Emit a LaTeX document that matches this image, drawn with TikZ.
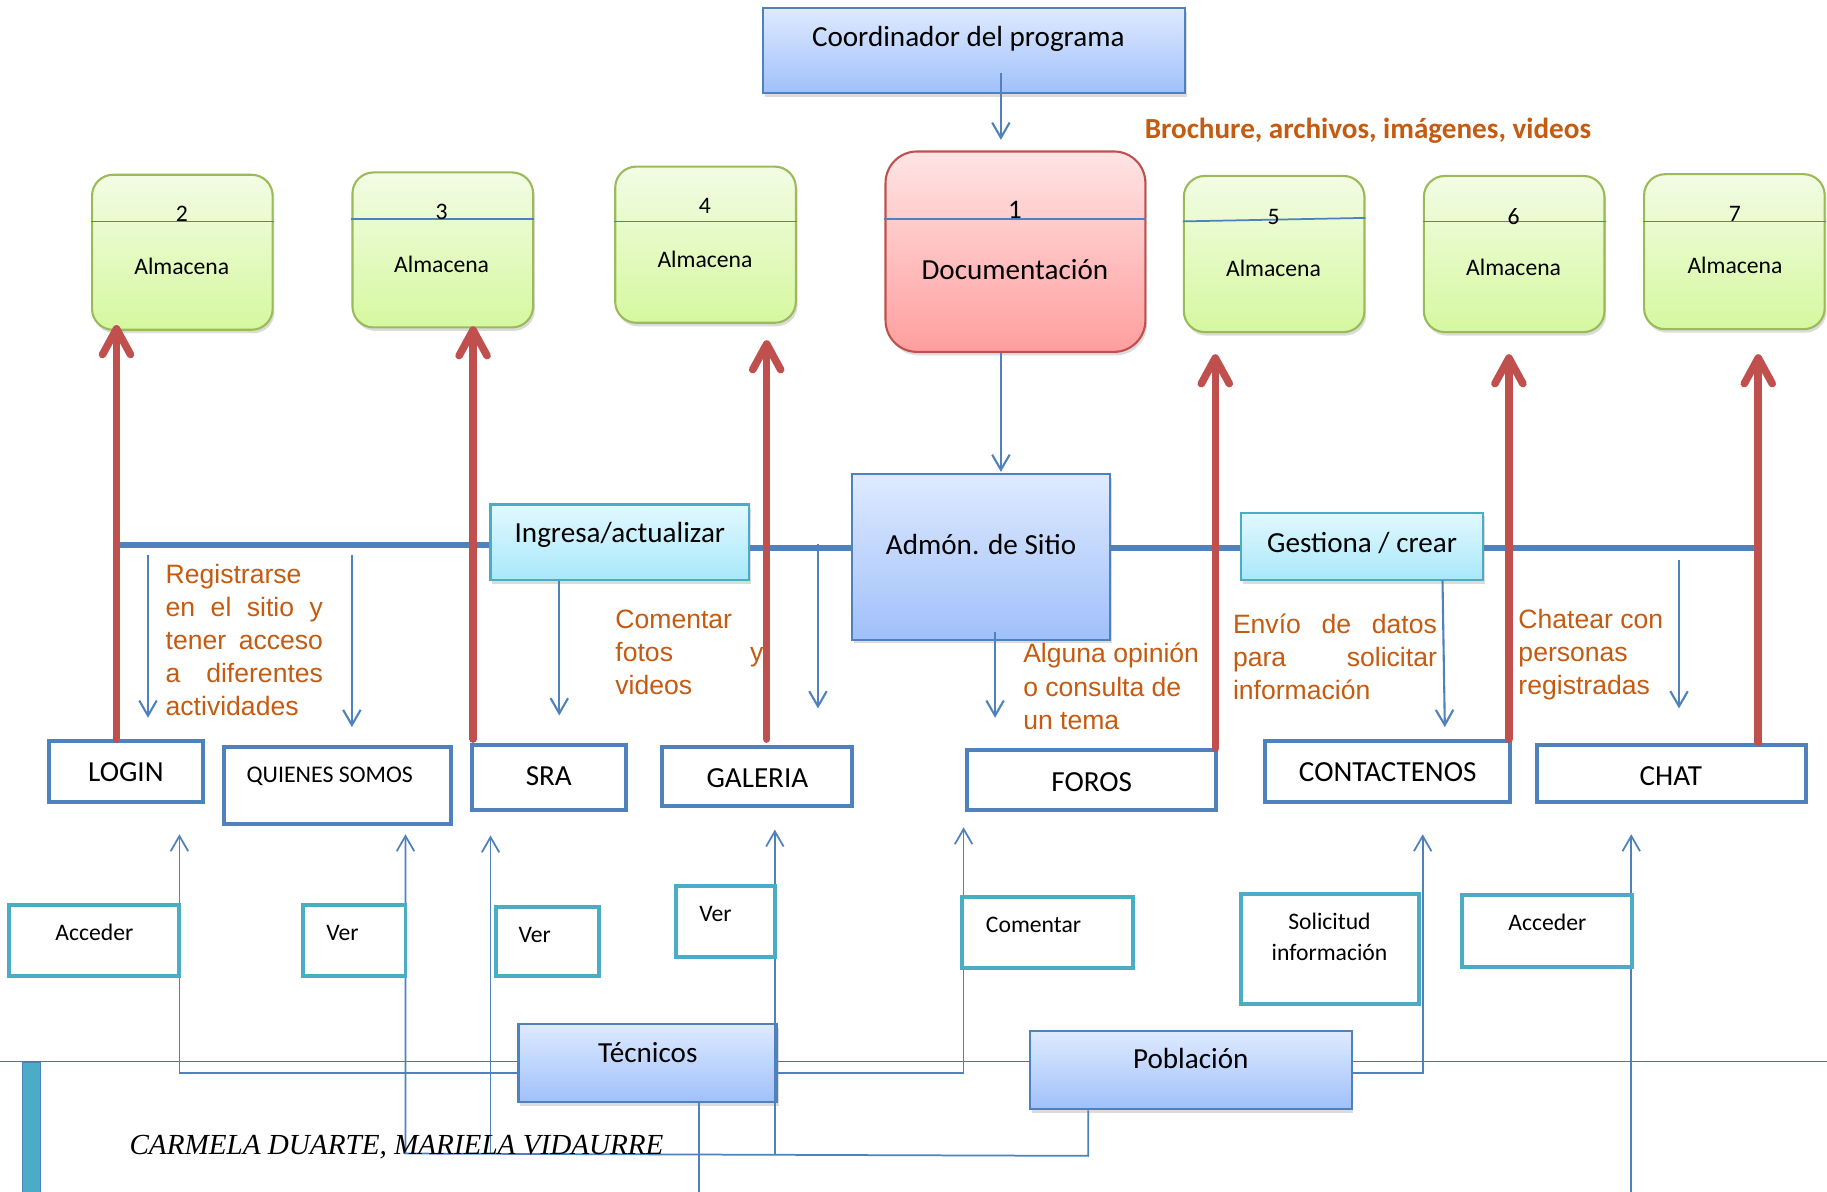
\documentclass[tikz,border=0pt]{standalone}
\usepackage{fontspec}
\setmainfont{Carlito}
\newfontfamily\arialf{Liberation Sans}
\newfontfamily\timesf{Liberation Serif}
\usetikzlibrary{arrows.meta,shadows}
\definecolor{cblue}{RGB}{79,129,189}
\definecolor{cred}{RGB}{192,80,77}
\definecolor{corange}{RGB}{197,90,17}
\definecolor{ccyan}{RGB}{75,172,198}
\definecolor{cgreen}{RGB}{155,187,89}
\definecolor{gtop}{RGB}{242,252,228}
\definecolor{gbot}{RGB}{214,248,160}
\definecolor{ptop}{RGB}{255,228,228}
\definecolor{pbot}{RGB}{255,158,158}
\definecolor{btop}{RGB}{222,234,255}
\definecolor{bbot}{RGB}{160,192,250}
\definecolor{ctop}{RGB}{226,248,255}
\definecolor{cbot}{RGB}{168,232,250}
\definecolor{cteal}{RGB}{49,133,155}
\newcommand\fsz[1]{\fontsize{#1}{#1}\selectfont}
\tikzset{
  shadowed/.style={drop shadow={shadow xshift=1.5pt,shadow yshift=-3pt,opacity=0.28}},
  store/.style={draw=cgreen,line width=1.8pt,rounded corners=18pt,top color=gtop,bottom color=gbot,minimum width=155pt,minimum height=133pt,inner sep=0pt,shadowed},
  docbox/.style={draw=cred,line width=1.8pt,rounded corners=27pt,top color=ptop,bottom color=pbot,minimum width=223pt,minimum height=172pt,inner sep=0pt,shadowed},
  entity/.style={draw=cblue,line width=1.8pt,top color=btop,bottom color=bbot,inner sep=0pt,shadowed},
  flowbox/.style={draw=ccyan,line width=1.8pt,top color=ctop,bottom color=cbot,inner sep=0pt,shadowed},
  proc/.style={draw=cblue,line width=3.4pt,fill=white,inner sep=0pt},
  act/.style={draw=ccyan,line width=3.4pt,fill=white,inner sep=0pt},
  divline/.style={draw=cblue,line width=1.5pt},
  barline/.style={draw=cblue,line width=5pt},
  thinarr/.style={draw=cblue,line width=1.8pt,-{Straight Barb[length=13pt,width=15pt]}},
  thinline/.style={draw=cblue,line width=1.5pt},
  lowarr/.style={draw=cblue,line width=1.5pt,-{Straight Barb[length=13pt,width=15pt]}},
  redarr/.style={draw=cred,line width=6.5pt,line cap=round,-{Straight Barb[length=22pt,width=24pt,round]}},
  txt/.style={inner sep=0pt,anchor=base,font=\fsz{25}},
  txts/.style={inner sep=0pt,anchor=base,font=\fsz{20.3}},
  otxt/.style={inner sep=0pt,anchor=base west,text=corange,font=\arialf\fsz{22.8}},
}
\begin{document}
\begin{tikzpicture}[x=1pt,y=-1pt]
\useasboundingbox (0,0) rectangle (1568,1023);
\fill[white] (0,0) rectangle (1568,1023);

% page decoration
\coordinate (tealL) at (0,911);
\coordinate (tealR) at (1568,911);
\draw[cteal,line width=1.3pt] (tealL) -- (tealR);
\node[fill=ccyan,draw=cblue,line width=1pt,minimum width=16pt,minimum height=112pt,inner sep=0pt,anchor=north west] (sidebar) at (18.5,911.5) {};

% lower connector points
\coordinate (L1) at (154,920.6);
\coordinate (L1t) at (154,716);
\coordinate (L2) at (827,920.6);
\coordinate (L2t) at (827,710);
\coordinate (L3) at (1221,920.6);
\coordinate (L3t) at (1221,716);
\coordinate (P1) at (934,992);
\coordinate (P2) at (348,990);
\coordinate (P2t) at (348,716);
\coordinate (B1) at (421,990);
\coordinate (B1t) at (421,717);
\coordinate (B2) at (665,990);
\coordinate (B2t) at (665,712);
\coordinate (T1) at (600,1023);
\coordinate (C1) at (1400,1023);
\coordinate (C1t) at (1400,716);

% boxes
\node[store] (s2) at (156.5,216.5) {};
\node[store] (s3) at (380,214.5) {};
\node[store,minimum height=134pt] (s4) at (605.5,210) {};
\node[store,minimum height=134pt] (s5) at (1093.5,218) {};
\node[store,minimum height=134pt] (s6) at (1299.5,218) {};
\node[store] (s7) at (1488.5,216) {};
\node[docbox] (doc) at (871.5,216) {};
\node[entity,minimum width=362pt,minimum height=73pt] (coord) at (836,43.5) {};
\node[entity,minimum width=222pt,minimum height=142pt] (adm) at (842,478) {};

\draw[divline] ([yshift=26.5pt]s2.west) -- ([yshift=26.5pt]s2.east);
\draw[divline] ([yshift=26.5pt]s3.west) -- ([yshift=26.5pt]s3.east);
\draw[divline] ([yshift=20pt]s4.west) -- ([yshift=20pt]s4.east);
\draw[divline] ([yshift=28pt]s5.west) -- ([yshift=31pt]s5.east);
\draw[divline] ([yshift=28pt]s6.west) -- ([yshift=28pt]s6.east);
\draw[divline] ([yshift=26pt]s7.west) -- ([yshift=26pt]s7.east);
\draw[divline] ([yshift=28pt]doc.west) -- ([yshift=28pt]doc.east);

% blue bar
\coordinate (barL) at (103,468);
\coordinate (barR) at (1505,470);
\node[flowbox,minimum width=222pt,minimum height=65pt] (ing) at (532,465.5) {};
\node[flowbox,minimum width=208pt,minimum height=58pt] (gest) at (1169,469) {};
\draw[barline] (barL) -- (ing.west |- barL);
\draw[barline] (ing.east |- barR) -- (adm.west |- barR);
\draw[barline] (adm.east |- barR) -- (gest.west |- barR);
\draw[barline] (gest.east |- barR) -- (barR);

% process boxes
\node[proc,minimum width=132pt,minimum height=52pt] (login) at (108,662) {};
\node[proc,minimum width=195pt,minimum height=66pt] (quien) at (289.5,674) {};
\node[proc,minimum width=132pt,minimum height=56pt] (sra) at (471,667) {};
\node[proc,minimum width=163pt,minimum height=51pt] (gal) at (649.5,666.5) {};
\node[proc,minimum width=214pt,minimum height=51pt] (foros) at (937,669.5) {};
\node[proc,minimum width=210pt,minimum height=52pt] (cont) at (1191,662) {};
\node[proc,minimum width=231pt,minimum height=49pt] (chat) at (1434.5,663.5) {};

% lower boxes
\node[entity,minimum width=222pt,minimum height=67pt] (tec) at (556,912.5) {};
\node[entity,minimum width=276pt,minimum height=67pt] (pob) at (1022,918.5) {};

% lower connectors
\draw[lowarr] (tec.west |- L1) -- (L1) -- (L1t);
\draw[lowarr] (tec.east |- L2) -- (L2) -- (L2t);
\draw[lowarr] (pob.east |- L3) -- (L3) -- (L3t);
\draw[lowarr] (pob.south -| P1) -- (P1) -- (P2) -- (P2t);
\draw[lowarr] (B1) -- (B1t);
\draw[lowarr] (B2) -- (B2t);
\draw[thinline] (tec.south -| T1) -- (T1);
\draw[lowarr] (C1) -- (C1t);

\node[act,minimum width=146pt,minimum height=61pt] (acc1) at (81,807.5) {};
\node[act,minimum width=88pt,minimum height=61pt] (ver1) at (304,807.5) {};
\node[act,minimum width=88pt,minimum height=60pt] (ver2) at (470,808) {};
\node[act,minimum width=85pt,minimum height=61pt] (ver3) at (622.5,790.5) {};
\node[act,minimum width=146pt,minimum height=61pt] (com) at (899,800.5) {};
\node[act,minimum width=153pt,minimum height=95pt] (sol) at (1141.5,814.5) {};
\node[act,minimum width=146pt,minimum height=62pt] (acc2) at (1328,799) {};

% top arrows
\coordinate (k1) at (859,63);
\coordinate (k2) at (859,120);
\coordinate (k3) at (859,405);
\draw[thinarr] (k1) -- (k2);
\draw[thinarr] (doc.south -| k3) -- (k3);
\coordinate (d1a) at (127,476); \coordinate (d1b) at (127,616);
\coordinate (d2a) at (302,476); \coordinate (d2b) at (302,624);
\coordinate (d3b) at (480,614);
\coordinate (d4a) at (702,467); \coordinate (d4b) at (702,608);
\coordinate (d5a) at (854,542); \coordinate (d5b) at (854,616);
\coordinate (d6a) at (1238,498); \coordinate (d6b) at (1240,624);
\coordinate (d7a) at (1441,481); \coordinate (d7b) at (1441,608);
\draw[thinarr] (d1a) -- (d1b);
\draw[thinarr] (d2a) -- (d2b);
\draw[thinarr] (ing.south -| d3b) -- (d3b);
\draw[thinarr] (d4a) -- (d4b);
\draw[thinarr] (d5a) -- (d5b);
\draw[thinarr] (d6a) -- (d6b);
\draw[thinarr] (d7a) -- (d7b);

% red arrows
\coordinate (r2t) at (100,279);
\coordinate (r3t) at (406,280);
\coordinate (r4t) at (658,292);
\coordinate (r5t) at (1043,304);
\coordinate (r6t) at (1295,304);
\coordinate (r7t) at (1509,304);
\draw[redarr] (login.north -| r2t) -- (r2t);
\draw[redarr] ([yshift=3pt]sra.north -| r3t) -- (r3t);
\draw[redarr] ([yshift=5pt]gal.north -| r4t) -- (r4t);
\draw[redarr] (foros.north -| r5t) -- (r5t);
\draw[redarr] (cont.north -| r6t) -- (r6t);
\draw[redarr] (chat.north -| r7t) -- (r7t);

% texts
\node[txt] (coordT) at (831,40) {Coordinador del programa};
\node[txt,font=\bfseries\fsz{25},text=corange] (broT) at (1174,119) {Brochure, archivos, imágenes, videos};
\node[txt,font=\fsz{23}] (docN) at (871,187.5) {1};
\node[txt] (docT) at (871,240) {Documentación};
\node[txts] (n2) at (156,190.5) {2};
\node[txts] (n3) at (379,188.5) {3};
\node[txts] (n4) at (605,183.5) {4};
\node[txts] (n5) at (1093,192.5) {5};
\node[txts] (n6) at (1299,192.5) {6};
\node[txts] (n7) at (1489,190.5) {7};
\node[txts] (a2) at (156,235.5) {Almacena};
\node[txts] (a3) at (379,233.5) {Almacena};
\node[txts] (a4) at (605,229.5) {Almacena};
\node[txts] (a5) at (1093,237.5) {Almacena};
\node[txts] (a6) at (1299,236.5) {Almacena};
\node[txts] (a7) at (1489,234.5) {Almacena};
\node[txt] (ingT) at (532,466) {Ingresa/actualizar};
\node[txt] (admT) at (842,476) {Admón. de Sitio};
\node[txt] (gestT) at (1169,474) {Gestiona / crear};
\node[txt] (loginT) at (108,671) {LOGIN};
\node[txts,font=\fsz{20.5}] (quienT) at (283,671.5) {QUIENES SOMOS};
\node[txt] (sraT) at (471,674) {SRA};
\node[txt] (galT) at (650,676) {GALERIA};
\node[txt] (forosT) at (937,679) {FOROS};
\node[txt] (contT) at (1191,671) {CONTACTENOS};
\node[txt] (chatT) at (1434,674) {CHAT};
\node[txts] (acc1T) at (81,807.5) {Acceder};
\node[txts] (ver1T) at (294,807.5) {Ver};
\node[txts] (ver2T) at (459,808.5) {Ver};
\node[txts] (ver3T) at (614,790.5) {Ver};
\node[txts] (comT) at (887,800.5) {Comentar};
\node[txts] (solT1) at (1141,797.5) {Solicitud};
\node[txts] (solT2) at (1141,824.5) {información};
\node[txts] (acc2T) at (1328,798.5) {Acceder};
\node[txt] (tecT) at (556,912) {Técnicos};
\node[txt] (pobT) at (1022,917) {Población};

% orange labels
\node[otxt] (r1) at (142,501) {Registrarse};
\node[otxt] (r2) at (142,529) {\makebox[135pt][s]{en el sitio y}};
\node[otxt] (r3) at (142,557) {\makebox[135pt][s]{tener acceso}};
\node[otxt] (r4) at (142,586) {\makebox[135pt][s]{a diferentes}};
\node[otxt] (r5) at (142,614) {actividades};
\node[otxt] (c1) at (528,539) {Comentar};
\node[otxt] (c2) at (528,568) {\makebox[127pt][s]{fotos y}};
\node[otxt] (c3) at (528,596) {videos};
\node[otxt] (g1) at (878,569) {Alguna opinión};
\node[otxt] (g2) at (878,598) {o consulta de};
\node[otxt] (g3) at (878,626) {un tema};
\node[otxt] (e1) at (1058,544) {\makebox[175pt][s]{Envío de datos}};
\node[otxt] (e2) at (1058,572) {\makebox[175pt][s]{para solicitar}};
\node[otxt] (e3) at (1058,600) {información};
\node[otxt] (h1) at (1303,539) {Chatear con};
\node[otxt] (h2) at (1303,568) {personas};
\node[otxt] (h3) at (1303,596) {registradas};

\node[inner sep=0pt,anchor=base west,font=\timesf\itshape\fsz{25}] (auth) at (111,991) {CARMELA DUARTE, MARIELA VIDAURRE};
\end{tikzpicture}
\end{document}
